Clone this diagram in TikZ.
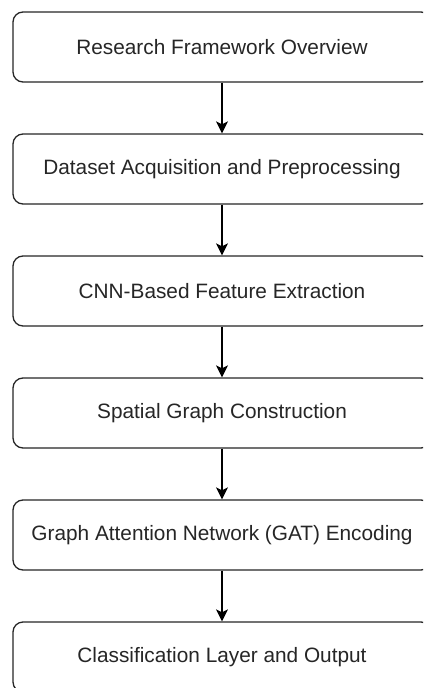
\documentclass[tikz,border=0pt]{standalone}
\usepackage{fontspec}
\setmainfont{Liberation Sans}
\usetikzlibrary{arrows.meta}
\begin{document}
\begin{tikzpicture}[x=1pt,y=-1pt,
  stagebox/.style={draw=black!85, line width=1.3pt, rounded corners=10pt, fill=white,
    minimum width=418pt, minimum height=70pt, inner sep=0pt,
    font=\fontsize{20.8pt}{24pt}\selectfont, text=black!85},
  flowarrow/.style={draw=black, line width=1.3pt, -{Stealth[length=12pt,width=12pt,inset=3pt]}}]
\useasboundingbox (0,0) rectangle (423,688);
\clip (0,0) rectangle (423,688);
\node[stagebox] (b1) at (222,47) {Research Framework Overview};
\node[stagebox] (b2) at (222,169) {Dataset Acquisition and Preprocessing};
\node[stagebox] (b3) at (222,291) {CNN-Based Feature Extraction};
\node[stagebox] (b4) at (222,413) {Spatial Graph Construction};
\node[stagebox] (b5) at (222,535) {Graph Attention Network (GAT) Encoding};
\node[stagebox] (b6) at (222,657) {Classification Layer and Output};
\draw[flowarrow] (b1) -- (b2);
\draw[flowarrow] (b2) -- (b3);
\draw[flowarrow] (b3) -- (b4);
\draw[flowarrow] (b4) -- (b5);
\draw[flowarrow] (b5) -- (b6);
\end{tikzpicture}
\end{document}
